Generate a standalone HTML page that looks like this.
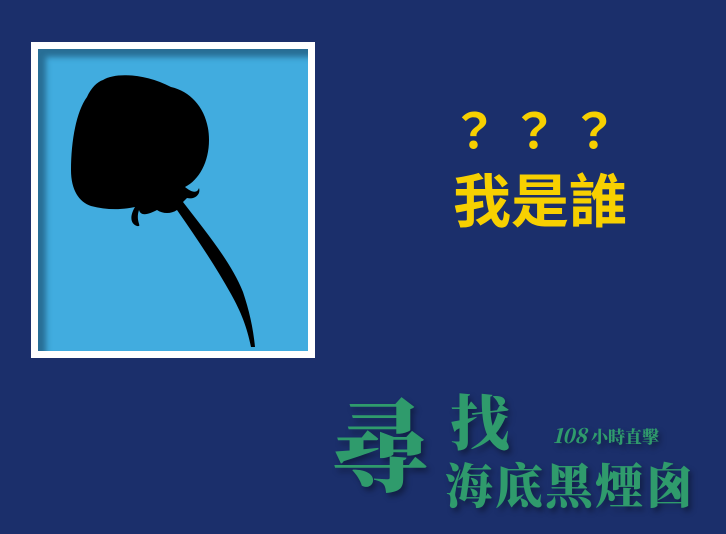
<!DOCTYPE html>
<html><head><meta charset="utf-8"><style>
html,body{margin:0;padding:0}
body{width:726px;height:534px;background:#1b2f6b;position:relative;overflow:hidden;font-family:"Liberation Sans","Noto Sans CJK TC",sans-serif}
.frame{position:absolute;left:31px;top:42px;width:284px;height:316px;background:#fff}
.inner{position:absolute;left:7px;top:7px;width:270px;height:302px;background:#41acdf;box-shadow:inset 10px 10px 6px -2px rgba(20,60,90,0.55)}
.q{position:absolute;left:440px;width:200px;text-align:center;color:#f7d000;font-weight:bold;font-family:"Noto Sans CJK TC",sans-serif}
.g{position:absolute;color:#2f9b6c;font-family:"Noto Serif CJK SC","Noto Sans CJK TC",serif;font-weight:900;text-shadow:3px 4px 6px rgba(0,0,0,0.35)}
</style></head><body>
<div class="frame">
<div class="inner"></div>
<svg width="284" height="316" style="position:absolute;left:0;top:0">
<path fill="#000" d="M72,38 C85,30 115,32 140,45 C162,50 178,70 178,98 C178,120 168,138 154,145 C160,150 166,152 168,146 C170,152 164,158 156,156 L152,160 C175,190 200,220 212,250 C218,268 222,285 224,305 L220,305 C216,285 210,270 200,252 C185,225 165,195 146,168 C140,172 132,172 126,168 C118,172 110,175 108,168 C104,180 112,185 106,184 C100,182 98,175 104,165 C90,168 75,168 60,164 C48,160 40,148 40,128 C40,100 45,70 56,55 C60,46 66,40 72,38Z"/>
</svg>
</div>
<div class="q" style="top:92px;font-size:48px;letter-spacing:12px">？？？</div>
<div class="q" style="top:162px;font-size:58px;line-height:70px">我是誰</div>
<div class="g" style="left:330px;top:385px;font-size:100px;line-height:110px">尋</div>
<div class="g" style="left:450px;top:385px;font-size:60px;line-height:70px">找</div>
<div class="g" style="left:553px;top:425px;font-size:17px;line-height:20px"><span style="font-style:italic;font-size:20px">108</span> 小時直擊</div>
<div class="g" style="left:445px;top:455px;font-size:48px;line-height:55px;letter-spacing:2px">海底黑煙囪</div>
</body></html>
